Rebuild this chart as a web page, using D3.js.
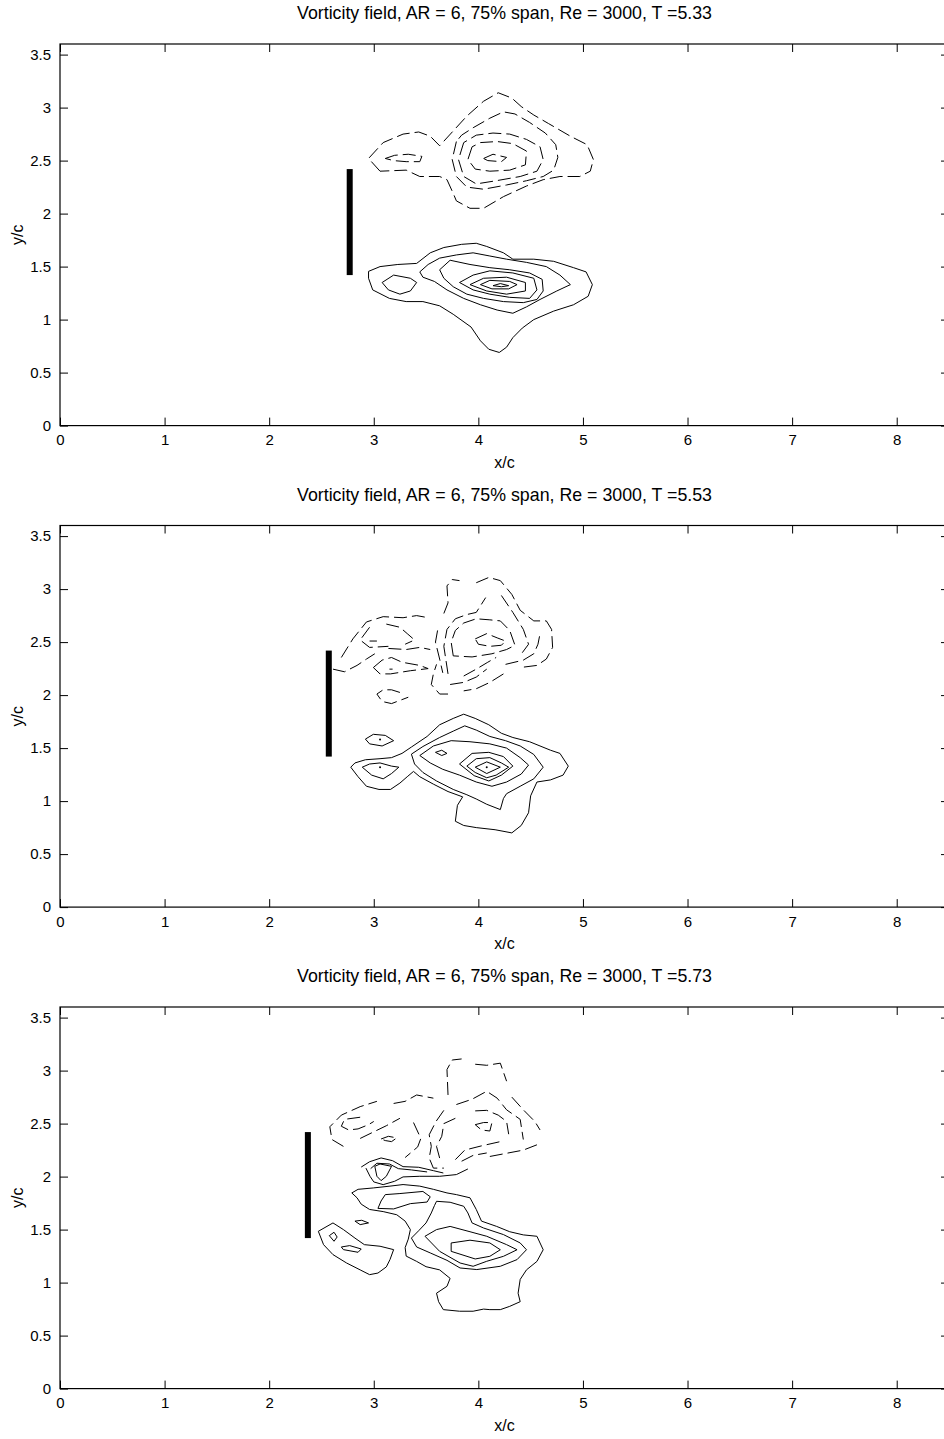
<!DOCTYPE html>
<html>
<head>
<meta charset="utf-8">
<script src="https://cdn.jsdelivr.net/npm/d3@7"></script>
<style>
  body { margin: 0; background: #fff; }
  svg { display: block; font-family: "Liberation Sans", Arial, sans-serif; }
  .tick line { stroke: #000; }
  .tick text { font-size: 15px; fill: #000; }
</style>
</head>
<body>
<div id="chart"></div>
<script>
// ---- data (x/c, y/c) ----
const times = ["5.33", "5.53", "5.73"];
const xTicks = [0, 1, 2, 3, 4, 5, 6, 7, 8];
const yTicks = [0, 0.5, 1, 1.5, 2, 2.5, 3, 3.5];
const xDomain = [0, 8.5];
const yDomain = [0, 3.6];
const plateX = [2.77, 2.57, 2.37];
const plateY = [1.42, 2.42];

// contour helpers: closed rings and open arcs, flat x,y lists
const ring = (...v) => ({closed: true, v});
const arc = (...v) => ({closed: false, v});

// T = 5.33, negative vorticity (dashed)
const p1Neg = [
  ring(3.06,2.40, 2.95,2.52, 3.09,2.67, 3.28,2.75, 3.43,2.77, 3.54,2.73, 3.63,2.64, 3.76,2.78, 3.89,2.92, 4.05,3.06, 4.19,3.14, 4.32,3.09, 4.41,3.01, 4.53,2.93, 4.67,2.85, 4.88,2.73, 5.04,2.65, 5.10,2.51, 5.07,2.40, 4.97,2.35, 4.78,2.35, 4.62,2.32, 4.46,2.26, 4.24,2.16, 4.05,2.05, 3.92,2.05, 3.79,2.12, 3.76,2.19, 3.70,2.32, 3.63,2.35, 3.44,2.35, 3.31,2.41),
  ring(3.11,2.52, 3.20,2.55, 3.33,2.56, 3.46,2.54, 3.44,2.49, 3.31,2.49, 3.19,2.50),
  ring(3.79,2.68, 3.75,2.51, 3.79,2.35, 3.89,2.25, 4.05,2.23, 4.27,2.27, 4.46,2.31, 4.62,2.35, 4.72,2.41, 4.76,2.53, 4.74,2.65, 4.64,2.76, 4.49,2.86, 4.35,2.94, 4.24,2.96, 4.11,2.90, 3.95,2.81, 3.84,2.74),
  ring(3.86,2.67, 3.81,2.51, 3.86,2.35, 3.98,2.28, 4.17,2.31, 4.40,2.35, 4.56,2.40, 4.62,2.51, 4.59,2.63, 4.46,2.70, 4.30,2.75, 4.14,2.76, 3.98,2.74),
  ring(3.94,2.63, 3.90,2.51, 3.97,2.42, 4.11,2.40, 4.30,2.41, 4.45,2.46, 4.46,2.59, 4.33,2.66, 4.18,2.68, 4.02,2.67),
  ring(4.05,2.52, 4.14,2.56, 4.27,2.53, 4.22,2.49, 4.09,2.50)
];
// T = 5.33, positive vorticity (solid)
const p1Pos = [
  ring(2.95,1.455, 3.06,1.50, 3.23,1.52, 3.41,1.53, 3.54,1.63, 3.67,1.68, 3.84,1.71, 3.98,1.72, 4.08,1.69, 4.24,1.63, 4.33,1.57, 4.53,1.57, 4.72,1.55, 4.91,1.49, 5.03,1.45, 5.09,1.33, 5.05,1.22, 4.91,1.14, 4.72,1.08, 4.53,1.00, 4.42,0.92, 4.33,0.83, 4.27,0.74, 4.20,0.69, 4.10,0.72, 4.02,0.80, 3.93,0.93, 3.76,1.05, 3.63,1.13, 3.47,1.17, 3.31,1.17, 3.15,1.20, 2.99,1.28, 2.95,1.39),
  ring(3.08,1.35, 3.19,1.42, 3.35,1.39, 3.41,1.35, 3.35,1.27, 3.25,1.24, 3.14,1.28),
  ring(3.44,1.45, 3.52,1.52, 3.63,1.58, 3.79,1.61, 3.95,1.63, 4.11,1.60, 4.27,1.57, 4.46,1.54, 4.65,1.50, 4.78,1.42, 4.88,1.33, 4.75,1.27, 4.59,1.19, 4.46,1.12, 4.33,1.06, 4.18,1.09, 4.02,1.14, 3.86,1.20, 3.70,1.28, 3.58,1.36, 3.47,1.40),
  ring(3.63,1.47, 3.73,1.56, 3.92,1.52, 4.11,1.49, 4.30,1.47, 4.49,1.44, 4.61,1.38, 4.62,1.27, 4.56,1.19, 4.43,1.16, 4.24,1.17, 4.05,1.20, 3.89,1.24, 3.76,1.31, 3.67,1.39),
  ring(3.82,1.35, 3.95,1.42, 4.11,1.46, 4.33,1.44, 4.53,1.39, 4.56,1.28, 4.49,1.20, 4.30,1.21, 4.11,1.24, 3.95,1.28),
  ring(3.92,1.33, 4.05,1.39, 4.27,1.40, 4.45,1.35, 4.45,1.27, 4.27,1.24, 4.08,1.27),
  ring(4.02,1.33, 4.11,1.37, 4.30,1.36, 4.37,1.33, 4.29,1.29, 4.13,1.29),
  ring(4.14,1.32, 4.21,1.34, 4.29,1.32, 4.22,1.31)
];
const p1Dots = [];

// T = 5.53
const p2Neg = [
  arc(2.61,2.245, 2.72,2.22, 2.84,2.28, 2.93,2.34, 3.01,2.39),
  arc(2.69,2.355, 2.80,2.53, 2.93,2.69, 3.09,2.74, 3.28,2.73, 3.41,2.75, 3.52,2.73),
  arc(3.67,2.77, 3.71,2.87, 3.70,3.03, 3.75,3.09, 3.82,3.08),
  arc(3.98,3.06, 4.10,3.11, 4.21,3.08, 4.32,2.95, 4.40,2.80, 4.53,2.70, 4.65,2.70, 4.70,2.62, 4.71,2.45, 4.65,2.34, 4.56,2.28, 4.40,2.26),
  arc(4.24,2.20, 4.11,2.12, 3.98,2.06, 3.86,2.04),
  arc(3.71,2.01, 3.63,2.01, 3.55,2.10, 3.57,2.20, 3.60,2.29),
  arc(3.61,2.61, 3.59,2.50, 3.63,2.34, 3.66,2.21),
  arc(3.71,2.20, 3.67,2.46, 3.70,2.62, 3.78,2.72, 3.89,2.76, 3.98,2.78, 4.07,2.92),
  arc(4.22,2.94, 4.33,2.78, 4.43,2.62, 4.48,2.48, 4.42,2.40),
  arc(4.26,2.29, 4.43,2.33, 4.53,2.39, 4.57,2.48, 4.59,2.58),
  arc(3.86,2.18, 3.98,2.245, 4.09,2.31, 4.17,2.355),
  arc(3.73,2.10, 3.86,2.12, 3.98,2.17, 4.08,2.245),
  ring(3.76,2.37, 3.74,2.50, 3.78,2.61, 3.86,2.68, 3.98,2.72, 4.11,2.71, 4.21,2.70, 4.30,2.61, 4.35,2.47, 4.27,2.43, 4.13,2.39, 3.94,2.36),
  ring(3.97,2.53, 4.08,2.58, 4.18,2.54, 4.26,2.51, 4.22,2.47, 4.11,2.46, 4.00,2.48),
  arc(2.96,2.64, 2.87,2.52, 2.96,2.45, 3.14,2.46),
  arc(3.12,2.67, 3.25,2.64, 3.32,2.58, 3.39,2.52, 3.30,2.48),
  arc(3.14,2.44, 3.31,2.43, 3.44,2.45, 3.54,2.43),
  arc(2.96,2.51, 3.03,2.51),
  ring(2.996,2.26, 3.08,2.33, 3.17,2.355, 3.27,2.31, 3.44,2.28, 3.52,2.25, 3.35,2.23, 3.16,2.20, 3.06,2.20),
  arc(3.15,2.245, 3.18,2.245),
  arc(3.25,2.025, 3.17,2.05, 3.09,2.05, 3.03,2.01, 3.08,1.94, 3.17,1.92, 3.33,1.98)
];
const p2Pos = [
  ring(2.78,1.32, 2.82,1.36, 2.92,1.39, 3.06,1.40, 3.17,1.41, 3.27,1.45, 3.36,1.51, 3.51,1.61, 3.63,1.72, 3.76,1.78, 3.86,1.82, 3.97,1.78, 4.10,1.72, 4.22,1.64, 4.33,1.60, 4.49,1.56, 4.69,1.48, 4.78,1.45, 4.86,1.33, 4.81,1.245, 4.69,1.20, 4.56,1.18, 4.50,1.05, 4.48,0.89, 4.41,0.77, 4.32,0.70, 4.16,0.73, 3.98,0.75, 3.86,0.77, 3.78,0.81, 3.80,0.96, 3.85,1.04, 3.71,1.09, 3.57,1.16, 3.44,1.23, 3.38,1.28, 3.32,1.23, 3.25,1.17, 3.16,1.11, 3.05,1.11, 2.93,1.14, 2.85,1.23),
  ring(2.92,1.585, 2.996,1.63, 3.11,1.62, 3.19,1.57, 3.08,1.52, 2.96,1.54),
  ring(2.89,1.32, 2.96,1.35, 3.06,1.36, 3.17,1.33, 3.24,1.32, 3.17,1.26, 3.09,1.21, 2.98,1.245),
  ring(3.36,1.443, 3.47,1.515, 3.63,1.60, 3.76,1.66, 3.87,1.71, 3.98,1.67, 4.11,1.61, 4.26,1.57, 4.40,1.52, 4.53,1.44, 4.62,1.32, 4.53,1.21, 4.40,1.14, 4.27,1.07, 4.24,1.025, 4.21,0.92, 4.08,0.97, 3.98,1.02, 3.89,1.06, 3.76,1.11, 3.60,1.19, 3.47,1.27, 3.39,1.35),
  ring(3.44,1.43, 3.57,1.52, 3.74,1.57, 3.92,1.56, 4.11,1.54, 4.27,1.50, 4.40,1.41, 4.48,1.34, 4.41,1.255, 4.27,1.18, 4.13,1.14, 3.98,1.18, 3.82,1.245, 3.66,1.30, 3.54,1.36),
  ring(3.59,1.46, 3.65,1.48, 3.70,1.45, 3.65,1.43),
  ring(3.82,1.35, 3.94,1.45, 4.10,1.46, 4.24,1.42, 4.33,1.33, 4.22,1.245, 4.10,1.19, 3.96,1.24),
  ring(3.89,1.33, 3.98,1.40, 4.11,1.41, 4.22,1.36, 4.29,1.32, 4.17,1.245, 4.08,1.22, 3.97,1.27),
  ring(3.97,1.32, 4.08,1.37, 4.21,1.32, 4.08,1.26)
];
const p2Dots = [[3.06, 1.58], [3.06, 1.32], [4.08, 1.32]];

// T = 5.73
const p3Neg = [
  arc(3.71,2.77, 3.70,3.01, 3.75,3.10, 3.84,3.11),
  arc(3.97,3.06, 4.08,3.05, 4.21,3.07, 4.27,2.90),
  arc(4.32,2.75, 4.43,2.63, 4.54,2.52, 4.59,2.44),
  arc(4.11,2.19, 4.27,2.22, 4.43,2.25, 4.56,2.30),
  arc(3.79,2.68, 3.94,2.73, 4.08,2.805, 4.18,2.74, 4.27,2.63, 4.40,2.54, 4.43,2.35),
  arc(3.97,2.62, 4.08,2.625, 4.19,2.58, 4.27,2.52, 4.29,2.40),
  ring(3.97,2.49, 4.05,2.51, 4.13,2.51, 4.11,2.43, 4.03,2.44),
  arc(3.78,2.16, 3.87,2.25, 4.03,2.29, 4.21,2.33),
  arc(3.84,2.145, 3.95,2.20, 4.08,2.223),
  arc(3.67,2.625, 3.595,2.52, 3.53,2.395, 3.55,2.285, 3.53,2.175, 3.57,2.08, 3.67,2.08),
  arc(3.78,2.55, 3.67,2.50, 3.65,2.38, 3.60,2.285, 3.63,2.175),
  arc(3.38,2.51, 3.45,2.36, 3.42,2.28, 3.30,2.18),
  arc(2.71,2.285, 2.60,2.35, 2.58,2.47, 2.69,2.58, 2.87,2.66, 3.03,2.71),
  arc(3.19,2.69, 3.30,2.71, 3.41,2.77, 3.57,2.74),
  arc(2.87,2.56, 2.72,2.54, 2.69,2.475, 2.76,2.44, 2.85,2.45, 2.95,2.49, 3.00,2.52),
  arc(2.87,2.36, 2.995,2.42, 3.12,2.48, 3.25,2.55),
  ring(3.07,2.355, 3.14,2.38, 3.22,2.365, 3.17,2.33, 3.11,2.34)
];
const p3Pos = [
  ring(2.79,1.846, 2.85,1.88, 2.995,1.893, 3.155,1.91, 3.28,1.925, 3.44,1.91, 3.57,1.88, 3.70,1.846, 3.79,1.83, 3.92,1.80, 3.98,1.69, 4.03,1.58, 4.175,1.53, 4.30,1.48, 4.43,1.45, 4.56,1.437, 4.62,1.31, 4.56,1.20, 4.46,1.12, 4.40,1.03, 4.38,0.90, 4.40,0.82, 4.30,0.776, 4.21,0.745, 4.11,0.745, 4.05,0.75, 3.95,0.73, 3.82,0.73, 3.665,0.745, 3.62,0.82, 3.60,0.90, 3.70,0.965, 3.73,1.04, 3.63,1.12, 3.50,1.15, 3.41,1.20, 3.31,1.25, 3.30,1.33, 3.33,1.41, 3.35,1.50, 3.30,1.58, 3.22,1.64, 3.09,1.67, 2.96,1.69, 2.88,1.74, 2.84,1.80),
  ring(3.11,1.83, 3.25,1.84, 3.47,1.86, 3.54,1.81, 3.51,1.76, 3.35,1.745, 3.19,1.695, 3.04,1.70, 3.07,1.77),
  ring(3.60,1.767, 3.73,1.758, 3.86,1.72, 3.90,1.657, 3.94,1.563, 4.05,1.515, 4.24,1.453, 4.40,1.374, 4.46,1.31, 4.37,1.217, 4.21,1.154, 3.985,1.123, 3.825,1.138, 3.70,1.21, 3.54,1.28, 3.41,1.336, 3.36,1.42, 3.43,1.49, 3.50,1.563, 3.55,1.657, 3.58,1.726),
  ring(3.49,1.437, 3.60,1.50, 3.73,1.53, 3.92,1.48, 4.08,1.437, 4.27,1.358, 4.37,1.31, 4.24,1.248, 4.08,1.201, 3.95,1.154, 3.825,1.185, 3.63,1.295),
  ring(3.74,1.374, 3.92,1.40, 4.11,1.374, 4.21,1.31, 4.11,1.248, 3.97,1.223, 3.74,1.295),
  ring(2.47,1.484, 2.61,1.563, 2.71,1.50, 2.82,1.42, 2.91,1.358, 3.06,1.343, 3.19,1.311, 3.155,1.217, 3.12,1.148, 3.04,1.09, 2.96,1.075, 2.87,1.12, 2.74,1.185, 2.61,1.264, 2.52,1.358),
  ring(2.575,1.443, 2.62,1.475, 2.65,1.43, 2.62,1.39),
  ring(2.69,1.336, 2.77,1.349, 2.88,1.317, 2.85,1.286, 2.71,1.311),
  ring(2.82,1.58, 2.885,1.588, 2.95,1.563, 2.87,1.547),
  arc(2.88,2.09, 2.96,2.14, 3.07,2.176, 3.18,2.15, 3.28,2.094, 3.43,2.088, 3.57,2.056, 3.665,2.034),
  arc(2.925,2.08, 2.964,2.003, 3.00,1.95, 3.09,1.924, 3.20,1.956, 3.28,1.997, 3.44,2.003, 3.63,2.003, 3.79,2.019, 3.90,2.072),
  ring(3.01,2.097, 3.06,2.119, 3.17,2.097, 3.12,2.003, 3.07,1.962, 3.03,2.003),
  arc(2.97,2.075, 3.03,2.126, 3.15,2.119, 3.235,2.075, 3.36,2.063, 3.51,2.044)
];
const p3Dots = [];

const panels = [
  {time: times[0], plate: plateX[0], neg: p1Neg, pos: p1Pos, dots: p1Dots},
  {time: times[1], plate: plateX[1], neg: p2Neg, pos: p2Pos, dots: p2Dots},
  {time: times[2], plate: plateX[2], neg: p3Neg, pos: p3Pos, dots: p3Dots}
];

// ---- layout ----
const W = 944, H = 1439;
const margin = {left: 60, top: 44};
const plotW = 889, plotH = 381.6, step = 481.5;

const svg = d3.select("#chart").append("svg")
  .attr("width", W).attr("height", H);

const x = d3.scaleLinear().domain(xDomain).range([margin.left, margin.left + plotW]);

const toPairs = v => d3.range(0, v.length, 2).map(i => [v[i], v[i + 1]]);

panels.forEach((p, i) => {
  const top = margin.top + i * step;
  const y = d3.scaleLinear().domain(yDomain).range([top + plotH, top]);
  const g = svg.append("g").attr("class", "panel");

  const line = d3.line().x(d => x(d[0])).y(d => y(d[1]));
  const lineClosed = d3.line().x(d => x(d[0])).y(d => y(d[1])).curve(d3.curveLinearClosed);

  // axes, ticks pointing inward on all four sides
  g.append("g").attr("transform", `translate(0,${top + plotH})`)
    .call(d3.axisBottom(x).tickValues(xTicks).tickSize(-8).tickSizeOuter(0).tickPadding(9).tickFormat(d3.format("d")))
    .call(a => a.select(".domain").remove());
  g.append("g").attr("transform", `translate(0,${top})`)
    .call(d3.axisTop(x).tickValues(xTicks).tickSize(-8).tickSizeOuter(0).tickFormat(""))
    .call(a => a.select(".domain").remove());
  g.append("g").attr("transform", `translate(${margin.left},0)`)
    .call(d3.axisLeft(y).tickValues(yTicks).tickSize(-8).tickSizeOuter(0).tickPadding(9).tickFormat(d3.format("")))
    .call(a => a.select(".domain").remove());
  g.append("g").attr("transform", `translate(${margin.left + plotW},0)`)
    .call(d3.axisRight(y).tickValues(yTicks).tickSize(-8).tickSizeOuter(0).tickFormat(""))
    .call(a => a.select(".domain").remove());

  g.append("rect")
    .attr("x", margin.left).attr("y", top)
    .attr("width", plotW).attr("height", plotH)
    .attr("fill", "none").attr("stroke", "#000").attr("stroke-width", 1.2);

  // contours
  const c = g.append("g").attr("fill", "none").attr("stroke", "#000").attr("stroke-width", 1);
  c.selectAll("path.neg").data(p.neg).join("path")
    .attr("class", "neg")
    .attr("stroke-dasharray", "13,5")
    .attr("d", d => (d.closed ? lineClosed : line)(toPairs(d.v)));
  c.selectAll("path.pos").data(p.pos).join("path")
    .attr("class", "pos")
    .attr("d", d => (d.closed ? lineClosed : line)(toPairs(d.v)));
  g.selectAll("circle.dot").data(p.dots).join("circle")
    .attr("class", "dot")
    .attr("cx", d => x(d[0])).attr("cy", d => y(d[1])).attr("r", 1)
    .attr("fill", "#000");

  // plate
  g.append("rect")
    .attr("x", x(p.plate) - 3).attr("width", 6)
    .attr("y", y(plateY[1])).attr("height", y(plateY[0]) - y(plateY[1]))
    .attr("fill", "#000");

  // labels
  g.append("text")
    .attr("x", margin.left + plotW / 2).attr("y", top - 25)
    .attr("text-anchor", "middle").attr("font-size", 17.8)
    .text(`Vorticity field, AR = 6, 75% span, Re = 3000, T =${p.time}`);
  g.append("text")
    .attr("x", margin.left + plotW / 2).attr("y", top + plotH + 42)
    .attr("text-anchor", "middle").attr("font-size", 16)
    .text("x/c");
  g.append("text")
    .attr("transform", `translate(23,${top + plotH / 2}) rotate(-90)`)
    .attr("text-anchor", "middle").attr("font-size", 16)
    .text("y/c");
});
</script>
</body>
</html>
